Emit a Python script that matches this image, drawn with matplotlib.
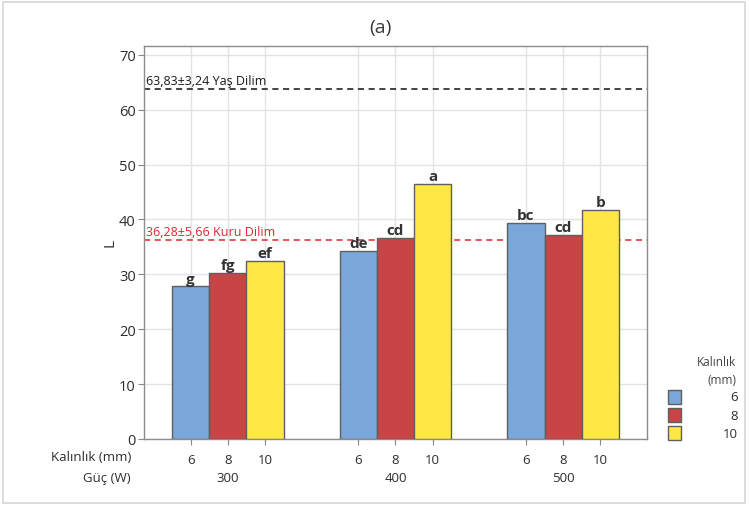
import matplotlib
matplotlib.use("Agg")
import matplotlib.pyplot as plt
from matplotlib.patches import Rectangle

plt.rcParams["font.family"] = ["Open Sans", "DejaVu Sans"]

# L values by power group (W) and slice thickness (mm)
powers = ["300", "400", "500"]
thicknesses = ["6", "8", "10"]
L_values = [
    [27.8, 30.2, 32.4],   # 300 W
    [34.2, 36.7, 46.5],   # 400 W
    [39.3, 37.2, 41.7],   # 500 W
]
letters = [
    ["g", "fg", "ef"],
    ["de", "cd", "a"],
    ["bc", "cd", "b"],
]
fresh_mean, fresh_sd = 63.83, 3.24
dry_mean, dry_sd = 36.28, 5.66

colors = ["#7ba6d9", "#c94446", "#ffe843"]
edge = "#5f5f5f"
text_col = "#2e2e2e"

W, H = 749, 506
fig = plt.figure(figsize=(W / 100, H / 100), dpi=100)
ax = fig.add_axes([144 / W, 1 - 440 / H, (647 - 144) / W, (440 - 47) / H])

group_step = 4.5
xs = []
for g, row in enumerate(L_values):
    for i, val in enumerate(row):
        x = g * group_step + i
        xs.append(x)
        ax.bar(x, val, width=1.0, color=colors[i], edgecolor=edge, linewidth=1.0, zorder=3)
        ax.text(x, val + 0.15, letters[g][i], ha="center", va="bottom",
                fontsize=11, fontweight="bold", color="#333333", zorder=4)

# reference lines for fresh and dried slices
ax.axhline(fresh_mean, color="#111111", linestyle=(0, (4, 3)), linewidth=1.1, zorder=2)
ax.axhline(dry_mean, color="#e2262b", linestyle=(0, (4, 3)), linewidth=1.1, zorder=2)
ax.text(-1.2, fresh_mean + 0.3, f"{fresh_mean:.2f}±{fresh_sd:.2f} Yaş Dilim".replace(".", ","),
        fontsize=9, color="#1a1a1a", va="bottom", ha="left")
ax.text(-1.2, dry_mean + 0.3, f"{dry_mean:.2f}±{dry_sd:.2f} Kuru Dilim".replace(".", ","),
        fontsize=9, color="#e2262b", va="bottom", ha="left")

ax.set_xlim(-1.25, 2 * group_step + 3.25)
ax.set_ylim(0, 71.6)
ax.set_yticks(range(0, 71, 10))
ax.set_xticks(xs)
ax.set_xticklabels(thicknesses * len(powers))
ax.tick_params(axis="x", length=4, color="#888888", labelsize=9.5, labelcolor=text_col, pad=6)
ax.tick_params(axis="y", length=4, color="#888888", labelsize=10.5, labelcolor=text_col, pad=2)
ax.grid(True, color="#e3e3e3", linewidth=1.0, zorder=0)
ax.set_axisbelow(True)
for s in ax.spines.values():
    s.set_color("#8c8c8c")
    s.set_linewidth(1.0)

ax.set_ylabel("L", fontsize=11, color=text_col, labelpad=1)

# second axis row: power groups
for g, p in enumerate(powers):
    ax.text(g * group_step + 1, -0.097, p, transform=ax.get_xaxis_transform(),
            ha="center", va="center", fontsize=9.5, color=text_col)
fig.text(131 / W, 1 - 458 / H, "Kalınlık (mm)", ha="right", va="center", fontsize=9.5, color=text_col)
fig.text(131 / W, 1 - 479 / H, "Güç (W)", ha="right", va="center", fontsize=9.5, color=text_col)

fig.text(380 / W, 1 - 28 / H, "(a)", ha="center", va="center", fontsize=14, color="#3a3a3a")

# legend
fig.text(716 / W, 1 - 363 / H, "Kalınlık", ha="center", va="center", fontsize=8.5, color="#444444")
fig.text(737 / W, 1 - 381 / H, "(mm)", ha="right", va="center", fontsize=8.5, color="#444444")
for i, t in enumerate(thicknesses):
    yc = 398 + i * 18
    fig.patches.append(Rectangle((668 / W, 1 - (yc + 7) / H), 13 / W, 14 / H,
                                 transform=fig.transFigure, facecolor=colors[i],
                                 edgecolor=edge, linewidth=1.0))
    fig.text(738 / W, 1 - yc / H, t, ha="right", va="center", fontsize=9.5, color=text_col)

# outer frame
fig.patches.append(Rectangle((3 / W, 2 / H), (W - 7) / W, (H - 5) / H,
                             transform=fig.transFigure, facecolor="none",
                             edgecolor="#d6d6d6", linewidth=1.2))

fig.savefig("out.png", dpi=100)
